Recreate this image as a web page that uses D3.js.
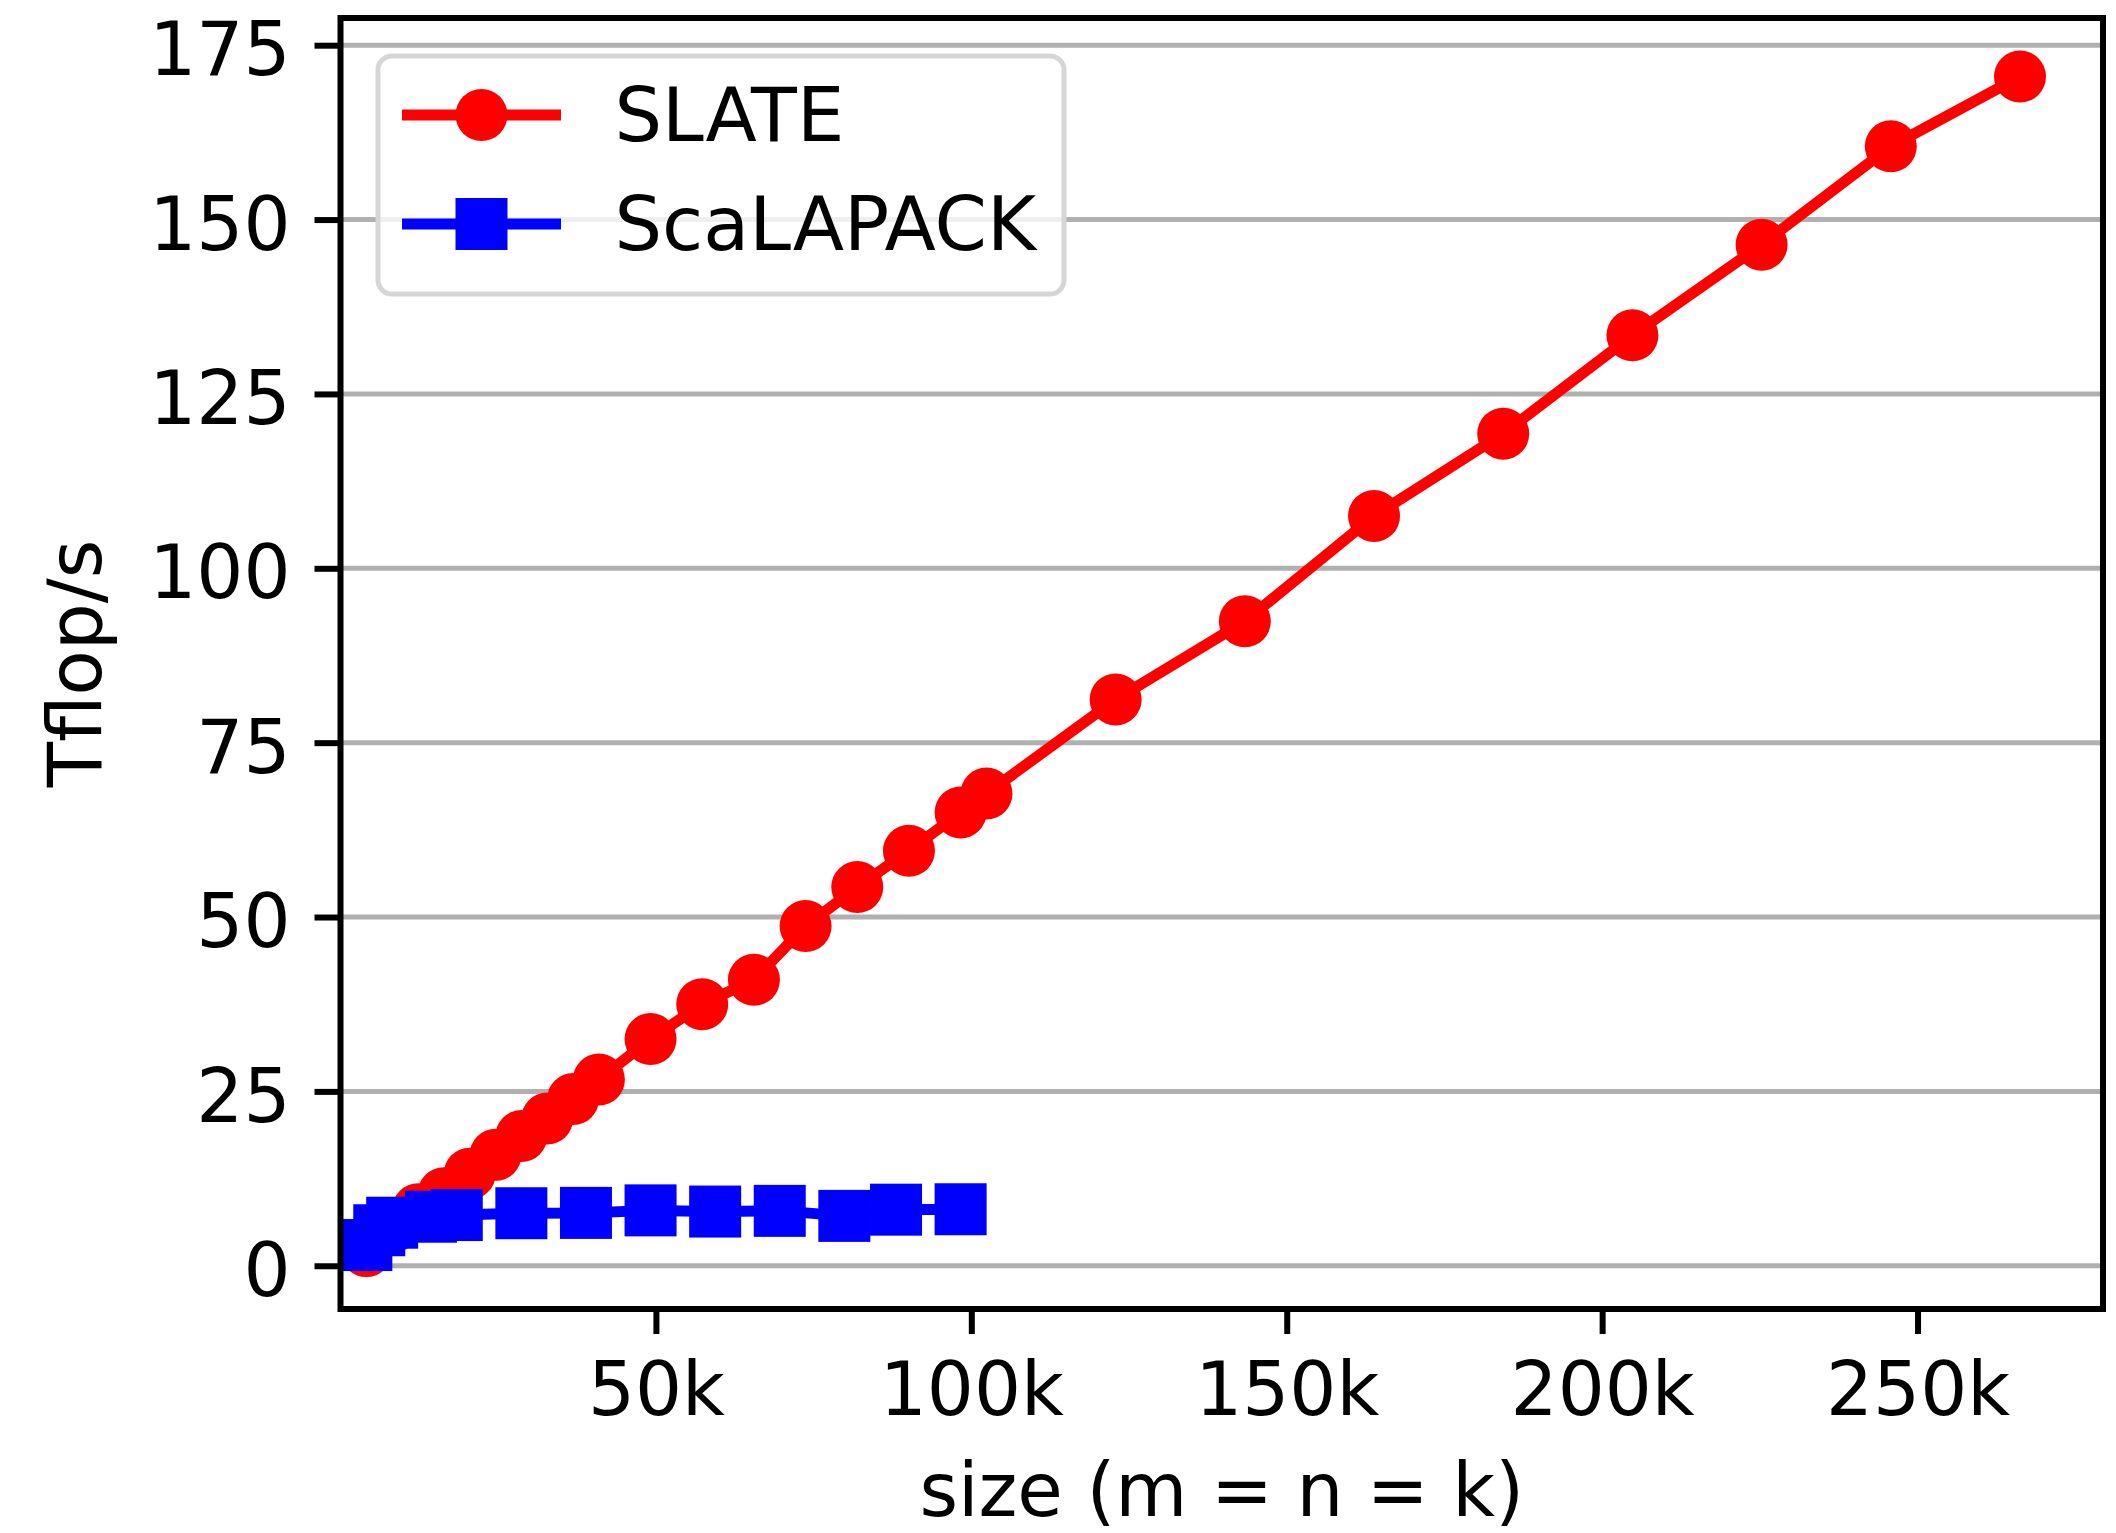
<!DOCTYPE html>
<html>
<head>
<meta charset="utf-8">
<script src="https://cdn.jsdelivr.net/npm/d3@7"></script>
<style>
  html, body { margin: 0; padding: 0; background: #fff; }
  svg { display: block; font-family: "DejaVu Sans", sans-serif; }
</style>
</head>
<body>
<svg id="chart" width="2116" height="1533"></svg>
<script>
// Matrix sizes (m = n = k) and achieved performance in Tflop/s
const slateSize = [4096, 8192, 12288, 16384, 20480, 24576, 28672, 32768, 36864, 40960,
  49152, 57344, 65536, 73728, 81920, 90112, 98304, 102400,
  122880, 143360, 163840, 184320, 204800, 225280, 245760, 266240];
const slateTflops = [2.1, 5.5, 8.1, 10.4, 13.2, 15.9, 18.6, 21.1, 23.9, 26.7,
  32.5, 37.5, 41.0, 48.7, 54.3, 59.5, 65.0, 67.7,
  81.2, 92.4, 107.5, 119.3, 133.4, 146.4, 160.5, 170.5];

const scalapackSize = [4096, 6144, 8192, 14336, 18432, 28672, 38912, 49152,
  59392, 69632, 79872, 88064, 98304];
const scalapackTflops = [2.97, 5.09, 6.17, 7.03, 7.27, 7.53, 7.58, 7.94,
  7.77, 7.87, 7.15, 8.04, 8.10];

const xTicks = [50000, 100000, 150000, 200000, 250000];
const xTickLabels = ["50k", "100k", "150k", "200k", "250k"];
const yTicks = [0, 25, 50, 75, 100, 125, 150, 175];

const seriesNames = ["SLATE", "ScaLAPACK"];
const seriesColors = ["#ff0000", "#0000ff"];
const xTitle = "size (m = n = k)";
const yTitle = "Tflop/s";

const svg = d3.select("#chart");
const plot = { left: 340.5, right: 2103, top: 18, bottom: 1309 };
const FONT = 74;

const x = d3.scaleLinear().domain([0, 279400]).range([plot.left, plot.right]);
const y = d3.scaleLinear().domain([-6.2, 178.9]).range([plot.bottom, plot.top]);

svg.append("defs").append("clipPath").attr("id", "plot-clip")
  .append("rect")
  .attr("x", plot.left).attr("y", plot.top)
  .attr("width", plot.right - plot.left).attr("height", plot.bottom - plot.top);

// horizontal grid lines
svg.append("g")
  .selectAll("line")
  .data(yTicks)
  .join("line")
  .attr("x1", plot.left).attr("x2", plot.right)
  .attr("y1", d => y(d)).attr("y2", d => y(d))
  .attr("stroke", "#b0b0b0").attr("stroke-width", 5);

// series
const series = [
  { name: seriesNames[0], color: seriesColors[0], xs: slateSize, ys: slateTflops, shape: "circle" },
  { name: seriesNames[1], color: seriesColors[1], xs: scalapackSize, ys: scalapackTflops, shape: "square" }
];

const MARK = 52;
const line = d3.line().x(d => x(d[0])).y(d => y(d[1]));
const dataLayer = svg.append("g").attr("clip-path", "url(#plot-clip)");

series.forEach(s => {
  const pts = s.xs.map((v, i) => [v, s.ys[i]]);
  const g = dataLayer.append("g");
  g.append("path")
    .attr("d", line(pts))
    .attr("fill", "none")
    .attr("stroke", s.color)
    .attr("stroke-width", 11)
    .attr("stroke-linejoin", "round");
  if (s.shape === "circle") {
    g.selectAll("circle").data(pts).join("circle")
      .attr("cx", d => x(d[0])).attr("cy", d => y(d[1]))
      .attr("r", MARK / 2).attr("fill", s.color);
  } else {
    g.selectAll("rect").data(pts).join("rect")
      .attr("x", d => x(d[0]) - MARK / 2).attr("y", d => y(d[1]) - MARK / 2)
      .attr("width", MARK).attr("height", MARK).attr("fill", s.color);
  }
});

// axes
const xAxis = d3.axisBottom(x)
  .tickValues(xTicks)
  .tickFormat((d, i) => xTickLabels[i])
  .tickSize(25).tickPadding(18);
const gx = svg.append("g").attr("transform", `translate(0,${plot.bottom})`).call(xAxis);
gx.select(".domain").remove();
gx.selectAll(".tick line").attr("stroke", "#000").attr("stroke-width", 6);
gx.selectAll(".tick text")
  .attr("font-size", FONT).attr("fill", "#000")
  .attr("font-family", "DejaVu Sans")
  .attr("dy", null).attr("y", null)
  .attr("transform", "translate(0,106)");

const yAxis = d3.axisLeft(y)
  .tickValues(yTicks)
  .tickSize(26).tickPadding(24);
const gy = svg.append("g").attr("transform", `translate(${plot.left},0)`).call(yAxis);
gy.select(".domain").remove();
gy.selectAll(".tick line").attr("stroke", "#000").attr("stroke-width", 6);
gy.selectAll(".tick text")
  .attr("font-size", FONT).attr("fill", "#000")
  .attr("font-family", "DejaVu Sans")
  .attr("x", -50)
  .attr("dy", "0.4em");

// frame
svg.append("rect")
  .attr("x", plot.left).attr("y", plot.top)
  .attr("width", plot.right - plot.left).attr("height", plot.bottom - plot.top)
  .attr("fill", "none").attr("stroke", "#000").attr("stroke-width", 6);

// axis titles
svg.append("text")
  .attr("x", (plot.left + plot.right) / 2).attr("y", 1516)
  .attr("text-anchor", "middle").attr("font-size", FONT)
  .text(xTitle);

svg.append("text")
  .attr("transform", `translate(101,${(plot.top + plot.bottom) / 2}) rotate(-90)`)
  .attr("text-anchor", "middle").attr("font-size", FONT)
  .text(yTitle);

// legend
const legend = svg.append("g");
legend.append("rect")
  .attr("x", 378).attr("y", 56)
  .attr("width", 1064 - 378).attr("height", 294 - 56)
  .attr("rx", 14).attr("ry", 14)
  .attr("fill", "#fff").attr("fill-opacity", 0.8)
  .attr("stroke", "#d6d6d6").attr("stroke-width", 5);

const legendRows = [115, 224];
series.forEach((s, i) => {
  const cy = legendRows[i];
  legend.append("line")
    .attr("x1", 402).attr("x2", 561)
    .attr("y1", cy).attr("y2", cy)
    .attr("stroke", s.color).attr("stroke-width", 11);
  if (s.shape === "circle") {
    legend.append("circle").attr("cx", 481.5).attr("cy", cy).attr("r", MARK / 2).attr("fill", s.color);
  } else {
    legend.append("rect").attr("x", 481.5 - MARK / 2).attr("y", cy - MARK / 2)
      .attr("width", MARK).attr("height", MARK).attr("fill", s.color);
  }
  legend.append("text")
    .attr("x", 614.5).attr("y", cy + 26)
    .attr("font-size", 75)
    .text(s.name);
});
</script>
</body>
</html>
